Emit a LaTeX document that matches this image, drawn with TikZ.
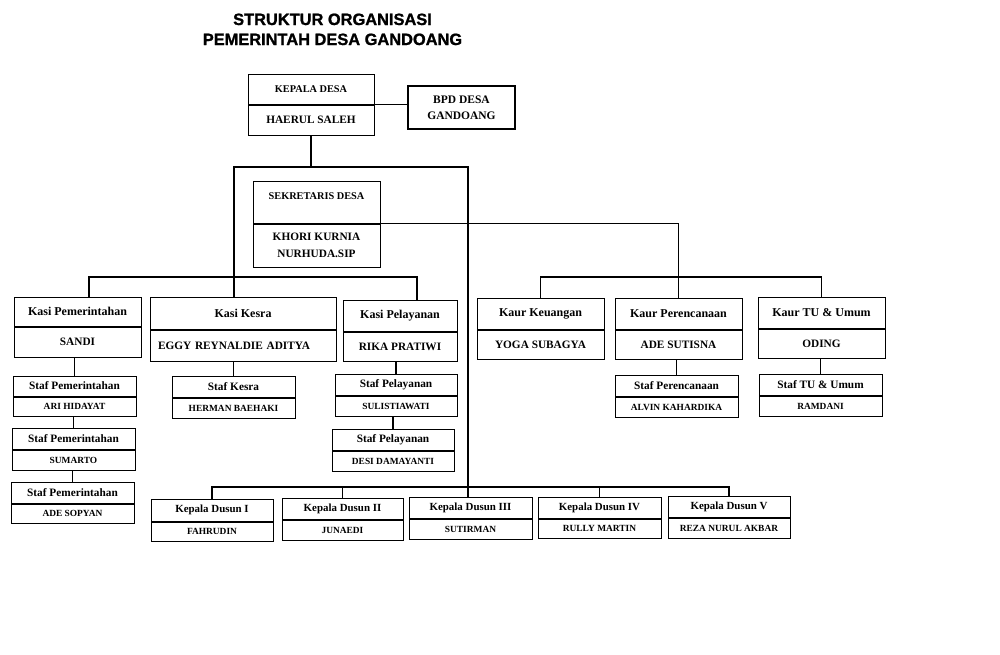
\documentclass[tikz,border=0pt]{standalone}
\usepackage{fontspec}
\setmainfont{Liberation Serif}
\newfontfamily\titlefont[BoldFeatures={FakeBold=1.2}]{Liberation Sans}
\usetikzlibrary{positioning}
\begin{document}
\begin{tikzpicture}[x=1pt,y=-1pt,
	cell/.style = {draw, line width=1pt, inner sep=1pt, align=center},
	hdcap/.style = {cell, font=\fontsize{10.3}{12}\selectfont\bfseries},
	hd/.style = {cell, font=\fontsize{12}{14}\selectfont\bfseries},
	hdname/.style = {cell, font=\fontsize{11.3}{17}\selectfont\bfseries},
	sf/.style = {cell, font=\fontsize{11.3}{13}\selectfont\bfseries},
	sfname/.style = {cell, font=\fontsize{9.4}{11}\selectfont\bfseries},
	ds/.style = {cell, font=\fontsize{10.9}{13}\selectfont\bfseries},
	link/.style = {line width=1.5pt}]

	\useasboundingbox (0,0) rectangle (1000,654);

	% title
	\node[font=\titlefont\fontsize{16.4}{20}\selectfont\bfseries, anchor=base] (ttl1) at (332.5,25) {STRUKTUR ORGANISASI};
	\node[font=\titlefont\fontsize{16.4}{20}\selectfont\bfseries, anchor=base] (ttl2) at (332.5,45) {PEMERINTAH DESA GANDOANG};

	% kepala desa, bpd
	\node[hdcap, minimum width=126pt, minimum height=30pt] (kd) at (311,89) {KEPALA DESA};
	\node[hdname, minimum width=126pt, minimum height=30pt, below=0pt of kd] (kdn) {HAERUL SALEH};
	\node[cell, line width=2.2pt, font=\fontsize{11.5}{16}\selectfont\bfseries, minimum width=107pt, minimum height=43pt] (bpd) at (461.5,107.5) {BPD DESA\\GANDOANG};

	% sekretaris
	\node[hdcap, minimum width=127pt, minimum height=42pt] (sek) at (316.5,202) {SEKRETARIS DESA\\~};
	\node[hdname, minimum width=127pt, minimum height=43pt, below=0pt of sek] (sekn) {KHORI KURNIA\\NURHUDA.SIP};

	% kasi
	\node[hd, minimum width=127pt, minimum height=29pt] (kp) at (77.5,311.5) {Kasi Pemerintahan};
	\node[hdname, minimum width=127pt, minimum height=30pt, below=0pt of kp] (kpn) {SANDI};
	\node[hd, minimum width=186pt, minimum height=32pt] (kk) at (243,313) {Kasi Kesra};
	\node[hdname, align=left, text width=170pt, inner xsep=8pt, minimum height=31pt, below=0pt of kk] (kkn) {EGGY REYNALDIE ADITYA};
	\node[hd, minimum width=114pt, minimum height=31pt] (kpl) at (400,315.5) {Kasi Pelayanan};
	\node[hdname, minimum width=114pt, minimum height=29pt, below=0pt of kpl] (kpln) {RIKA PRATIWI};

	% kaur
	\node[hd, minimum width=127pt, minimum height=31pt] (kku) at (540.5,313.5) {Kaur Keuangan};
	\node[hdname, minimum width=127pt, minimum height=29pt, below=0pt of kku] (kkun) {YOGA SUBAGYA};
	\node[hd, minimum width=127pt, minimum height=31pt] (kpr) at (678.5,313.5) {Kaur Perencanaan};
	\node[hdname, minimum width=127pt, minimum height=29pt, below=0pt of kpr] (kprn) {ADE SUTISNA};
	\node[hd, minimum width=127pt, minimum height=31pt] (ktu) at (821.5,312.5) {Kaur TU \& Umum};
	\node[hdname, minimum width=127pt, minimum height=29pt, below=0pt of ktu] (ktun) {ODING};

	% staf
	\node[sf, minimum width=123pt, minimum height=20pt] (sp1) at (74.5,386) {Staf Pemerintahan};
	\node[sfname, minimum width=123pt, minimum height=19pt, below=0pt of sp1] (sp1n) {ARI HIDAYAT};
	\node[sf, minimum width=123pt, minimum height=21pt] (sp2) at (73.5,438.5) {Staf Pemerintahan};
	\node[sfname, minimum width=123pt, minimum height=20pt, below=0pt of sp2] (sp2n) {SUMARTO};
	\node[sf, minimum width=123pt, minimum height=21pt] (sp3) at (72.5,492.5) {Staf Pemerintahan};
	\node[sfname, minimum width=123pt, minimum height=19pt, below=0pt of sp3] (sp3n) {ADE SOPYAN};
	\node[sf, minimum width=123pt, minimum height=21pt] (sks) at (233.5,386.5) {Staf Kesra};
	\node[sfname, minimum width=123pt, minimum height=20pt, below=0pt of sks] (sksn) {HERMAN BAEHAKI};
	\node[sf, minimum width=122pt, minimum height=21pt] (spl1) at (396,384.5) {Staf Pelayanan};
	\node[sfname, minimum width=122pt, minimum height=20pt, below=0pt of spl1] (spl1n) {SULISTIAWATI};
	\node[sf, minimum width=122pt, minimum height=21pt] (spl2) at (393,439.5) {Staf Pelayanan};
	\node[sfname, minimum width=122pt, minimum height=20pt, below=0pt of spl2] (spl2n) {DESI DAMAYANTI};
	\node[sf, minimum width=123pt, minimum height=21pt] (spr) at (676.5,385.5) {Staf Perencanaan};
	\node[sfname, minimum width=123pt, minimum height=20pt, below=0pt of spr] (sprn) {ALVIN KAHARDIKA};
	\node[sf, minimum width=123pt, minimum height=21pt] (stu) at (820.5,384.5) {Staf TU \& Umum};
	\node[sfname, minimum width=123pt, minimum height=20pt, below=0pt of stu] (stun) {RAMDANI};

	% kepala dusun
	\node[ds, minimum width=122pt, minimum height=22pt] (d1) at (212,510) {Kepala Dusun I};
	\node[sfname, minimum width=122pt, minimum height=19pt, below=0pt of d1] (d1n) {FAHRUDIN};
	\node[ds, minimum width=121pt, minimum height=21pt] (d2) at (342.5,508.5) {Kepala Dusun II};
	\node[sfname, minimum width=121pt, minimum height=20pt, below=0pt of d2] (d2n) {JUNAEDI};
	\node[ds, minimum width=123pt, minimum height=21pt] (d3) at (470.5,507.5) {Kepala Dusun III};
	\node[sfname, minimum width=123pt, minimum height=20pt, below=0pt of d3] (d3n) {SUTIRMAN};
	\node[ds, minimum width=123pt, minimum height=21pt] (d4) at (599.5,507.5) {Kepala Dusun IV};
	\node[sfname, minimum width=123pt, minimum height=19pt, below=0pt of d4] (d4n) {RULLY MARTIN};
	\node[ds, minimum width=122pt, minimum height=21pt] (d5) at (729,506.5) {Kepala Dusun V};
	\node[sfname, minimum width=122pt, minimum height=20pt, below=0pt of d5] (d5n) {REZA NURUL AKBAR};

	% bus points
	\coordinate (busL) at (234,167);
	\coordinate (busR) at (468,167);
	\coordinate (kasiL) at (89,277);
	\coordinate (kasiR) at (417,277);
	\coordinate (kaurbus) at (0,277);
	\coordinate (dusbus) at (0,487);

	% lines
	\draw[link] (kd.south east) -- (kd.south east -| bpd.west);
	\draw[link] (kdn.south) -- (kdn.south |- busL);
	\draw[link] (busL |- kk.north) -- (busL) -- (busR) -- (busR |- d3.north);
	\draw[link] (kasiL |- kp.north) -- (kasiL) -- (kasiR) -- (kasiR |- kpl.north);
	\draw[link] (sek.south east) -| (kpr.north);
	\draw[link] (kku.north) -- (kku.north |- kaurbus) -- (ktu.north |- kaurbus) -- (ktu.north);
	\draw[link] (d1.north) -- (d1.north |- dusbus) -- (d5.north |- dusbus) -- (d5.north);
	\foreach \d in {d2,d4}
		\draw[link] (\d.north) -- (\d.north |- dusbus);

	\draw[link] (sp1.north |- kpn.south) -- (sp1.north);
	\draw[link] (sp2.north |- sp1n.south) -- (sp2.north);
	\draw[link] (sp3.north |- sp2n.south) -- (sp3.north);
	\draw[link] (sks.north |- kkn.south) -- (sks.north);
	\draw[link] (spl1.north |- kpln.south) -- (spl1.north);
	\draw[link] (spl2.north |- spl1n.south) -- (spl2.north);
	\draw[link] (spr.north |- kprn.south) -- (spr.north);
	\draw[link] (stu.north |- ktun.south) -- (stu.north);

\end{tikzpicture}
\end{document}
